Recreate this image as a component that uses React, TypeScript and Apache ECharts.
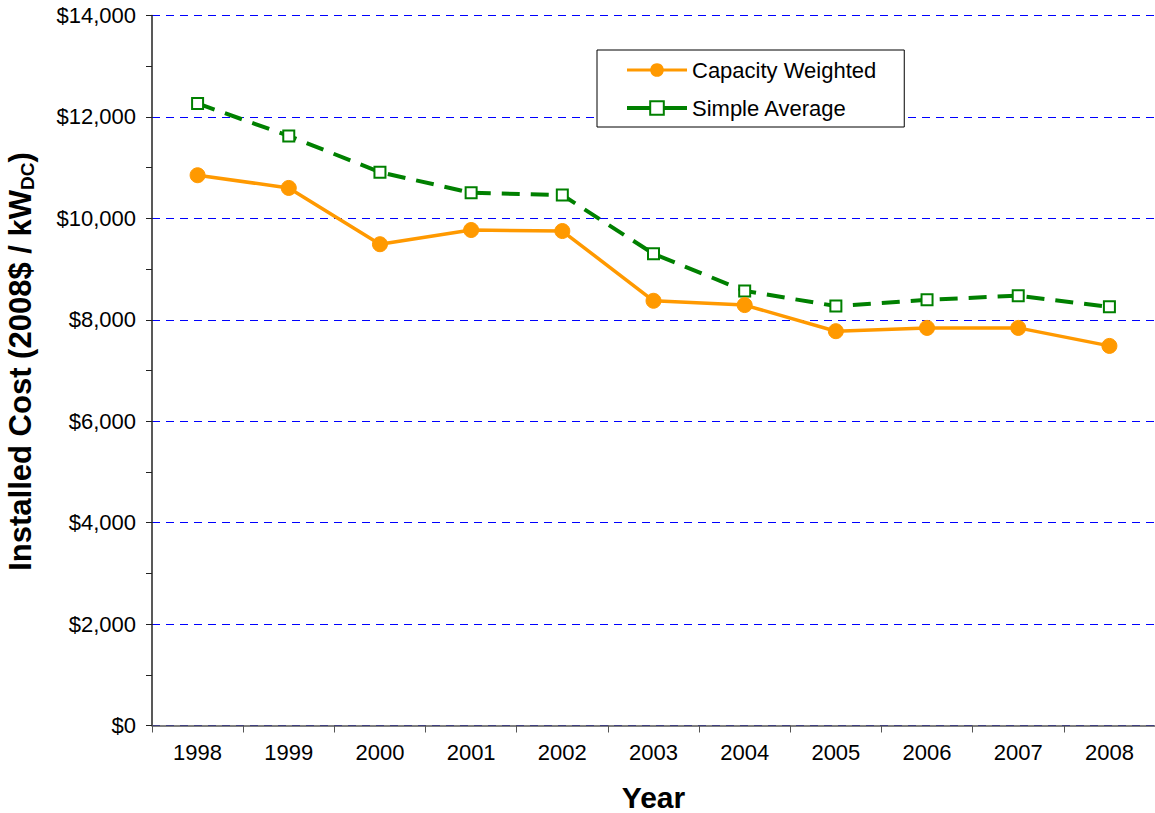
import React, { useEffect, useRef } from "react";
import * as echarts from "echarts";

const years = ["1998", "1999", "2000", "2001", "2002", "2003", "2004", "2005", "2006", "2007", "2008"];
const capacityWeighted = [10850, 10600, 9490, 9770, 9750, 8375, 8290, 7775, 7840, 7840, 7485];
const simpleAverage = [12265, 11625, 10910, 10505, 10460, 9300, 8570, 8270, 8395, 8475, 8255];

const FONT = "Liberation Sans, Arial, sans-serif";

export default function App() {
  const ref = useRef<HTMLDivElement>(null);
  useEffect(() => {
    const chart = echarts.init(ref.current!, undefined, { renderer: "svg" });
    chart.setOption({
      animation: false,
      backgroundColor: "#ffffff",
      grid: { left: 152, right: 0, top: 15.5, bottom: 87.5, containLabel: false, outerBoundsMode: "none" },
      legend: {
        left: 597,
        top: 50,
        orient: "vertical",
        padding: [7, 28, 6, 28],
        borderColor: "#000000",
        borderWidth: 1,
        backgroundColor: "#ffffff",
        itemWidth: 60,
        itemHeight: 17,
        itemGap: 12,
        textStyle: { fontFamily: FONT, fontSize: 22, color: "#000", lineHeight: 26 },
        data: [
          { name: "Capacity Weighted", lineStyle: { width: 3 } },
          { name: "Simple Average", lineStyle: { type: "solid", width: 4 } },
        ],
      },
      xAxis: {
        type: "category",
        data: years,
        boundaryGap: true,
        name: "Year",
        nameLocation: "middle",
        nameGap: 57,
        nameTextStyle: { fontFamily: FONT, fontSize: 30, fontWeight: "bold", color: "#000" },
        axisLine: { lineStyle: { color: "#555", width: 1.5 } },
        axisTick: { show: true, length: 7, inside: false, lineStyle: { color: "#555" } },
        axisLabel: { fontFamily: FONT, fontSize: 22, color: "#000", margin: 16 },
        splitLine: { show: false },
      },
      yAxis: {
        type: "value",
        min: 0,
        max: 14000,
        interval: 2000,
        name: "Installed Cost (2008$ / kW{sub|DC})",
        nameLocation: "middle",
        nameGap: 115,
        nameRotate: 90,
        nameTextStyle: {
          fontFamily: FONT,
          fontSize: 31,
          fontWeight: "bold",
          color: "#000",
          padding: [0, 0, 0, 18],
          rich: {
            sub: { fontFamily: FONT, fontSize: 19, fontWeight: "bold", color: "#000", verticalAlign: "bottom", padding: [14, 0, 0, 0] },
          },
        },
        axisLine: { show: true, lineStyle: { color: "#222", width: 1.5 } },
        axisTick: { show: true, length: 6, lineStyle: { color: "#222" } },
        minorTick: { show: true, splitNumber: 2, length: 6, lineStyle: { color: "#222" } },
        axisLabel: {
          fontFamily: FONT,
          fontSize: 22,
          color: "#000",
          margin: 16,
          formatter: (v: number) => "$" + v.toLocaleString("en-US"),
        },
        splitLine: { show: true, lineStyle: { color: "#0000ff", type: [8, 6], width: 1 } },
      },
      series: [
        {
          name: "Capacity Weighted",
          type: "line",
          data: capacityWeighted,
          symbol: "circle",
          symbolSize: 15,
          itemStyle: { color: "#ff9900", borderColor: "#ff9900" },
          lineStyle: { color: "#ff9900", width: 3.5 },
          z: 3,
        },
        {
          name: "Simple Average",
          type: "line",
          data: simpleAverage,
          symbol: "rect",
          symbolSize: 11,
          itemStyle: { color: "#ffffff", borderColor: "#008000", borderWidth: 2 },
          lineStyle: { color: "#008000", width: 4, type: [18, 11] },
          z: 2,
        },
      ],
    });
    return () => chart.dispose();
  }, []);
  return (
    <div
      ref={ref}
      style={{ position: "fixed", left: 0, top: 0, width: 1155, height: 813, background: "#fff" }}
    />
  );
}
